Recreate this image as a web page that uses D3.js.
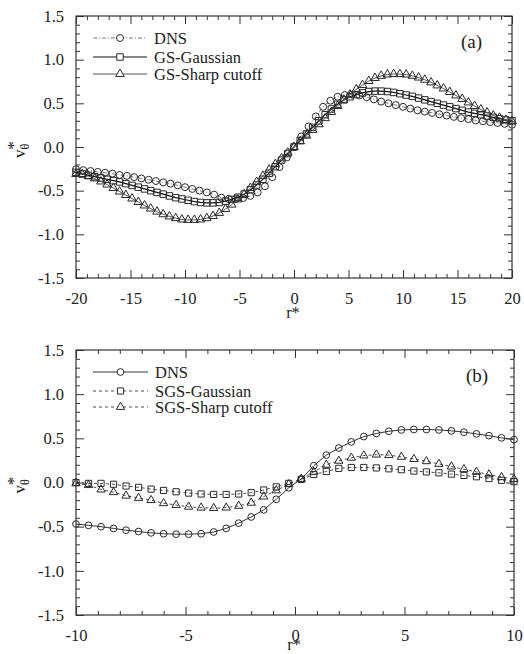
<!DOCTYPE html>
<html>
<head>
<meta charset="utf-8">
<script src="https://cdn.jsdelivr.net/npm/d3@7"></script>
<style>
body { margin: 0; background: #fff; }
text { font-family: "Liberation Serif", "Times New Roman", serif; fill: #222; }
</style>
</head>
<body>
<div id="chart"></div>
<script>
// ---- data ----
// panel (a): GS vs DNS
const rTopDns = [-20, -19.333, -18.667, -18, -17.333, -16.667, -16, -15.333, -14.667, -14, -13.333, -12.667, -12, -11.333, -10.667, -10, -9.333, -8.667, -8, -7.333, -6.667, -6, -5.333, -4.667, -4, -3.333, -2.667, -2, -1.333, -0.667,
  0, 0.667, 1.333, 2, 2.667, 3.333, 4, 4.667, 5.333, 6, 6.667, 7.333, 8, 8.667, 9.333, 10, 10.667, 11.333, 12, 12.667, 13.333, 14, 14.667, 15.333, 16, 16.667, 17.333, 18, 18.667, 19.333, 20];
const vTopDns = [-0.255, -0.265, -0.275, -0.285, -0.295, -0.305, -0.32, -0.33, -0.345, -0.36, -0.375, -0.39, -0.405, -0.42, -0.44, -0.46, -0.48, -0.50, -0.52, -0.545, -0.58, -0.595, -0.595, -0.585, -0.56, -0.52, -0.45, -0.345, -0.23, -0.12,
  0, 0.12, 0.235, 0.35, 0.46, 0.53, 0.575, 0.595, 0.60, 0.59, 0.57, 0.545, 0.52, 0.50, 0.48, 0.46, 0.44, 0.42, 0.405, 0.39, 0.375, 0.36, 0.345, 0.33, 0.32, 0.305, 0.295, 0.285, 0.275, 0.265, 0.255];

const rTopLes = [-20, -19.429, -18.857, -18.286, -17.714, -17.143, -16.571, -16, -15.429, -14.857, -14.286, -13.714, -13.143, -12.571, -12, -11.429, -10.857, -10.286, -9.714, -9.143, -8.571, -8, -7.429, -6.857, -6.286, -5.714, -5.143, -4.571, -4, -3.429, -2.857, -2.286, -1.714, -1.143, -0.571,
  0, 0.571, 1.143, 1.714, 2.286, 2.857, 3.429, 4, 4.571, 5.143, 5.714, 6.286, 6.857, 7.429, 8, 8.571, 9.143, 9.714, 10.286, 10.857, 11.429, 12, 12.571, 13.143, 13.714, 14.286, 14.857, 15.429, 16, 16.571, 17.143, 17.714, 18.286, 18.857, 19.429, 20];
const vTopGauss = [-0.29, -0.31, -0.325, -0.34, -0.355, -0.37, -0.385, -0.40, -0.42, -0.44, -0.46, -0.48, -0.50, -0.52, -0.54, -0.56, -0.58, -0.595, -0.61, -0.625, -0.635, -0.64, -0.64, -0.635, -0.62, -0.60, -0.575, -0.54, -0.49, -0.435, -0.37, -0.30, -0.225, -0.15, -0.075,
  0, 0.075, 0.15, 0.225, 0.30, 0.37, 0.435, 0.49, 0.54, 0.575, 0.60, 0.62, 0.635, 0.64, 0.64, 0.635, 0.625, 0.61, 0.595, 0.58, 0.56, 0.54, 0.52, 0.50, 0.48, 0.46, 0.44, 0.42, 0.40, 0.385, 0.37, 0.355, 0.34, 0.325, 0.31, 0.30];
const vTopSharp = [-0.31, -0.31, -0.335, -0.36, -0.395, -0.43, -0.47, -0.51, -0.55, -0.59, -0.63, -0.67, -0.705, -0.74, -0.77, -0.795, -0.815, -0.83, -0.835, -0.835, -0.83, -0.815, -0.79, -0.755, -0.71, -0.66, -0.60, -0.54, -0.47, -0.40, -0.33, -0.26, -0.195, -0.13, -0.065,
  0, 0.065, 0.13, 0.195, 0.26, 0.33, 0.40, 0.47, 0.54, 0.60, 0.66, 0.71, 0.755, 0.79, 0.815, 0.83, 0.835, 0.835, 0.83, 0.815, 0.795, 0.77, 0.74, 0.705, 0.67, 0.63, 0.59, 0.55, 0.51, 0.47, 0.43, 0.395, 0.36, 0.335, 0.31, 0.295];

// panel (b): SGS vs DNS
const rBot = [-10, -9.429, -8.857, -8.286, -7.714, -7.143, -6.571, -6, -5.429, -4.857, -4.286, -3.714, -3.143, -2.571, -2, -1.429, -0.857, -0.286,
  0.286, 0.857, 1.429, 2, 2.571, 3.143, 3.714, 4.286, 4.857, 5.429, 6, 6.571, 7.143, 7.714, 8.286, 8.857, 9.429, 10];
const vBotDns = [-0.47, -0.485, -0.50, -0.52, -0.54, -0.555, -0.57, -0.58, -0.585, -0.585, -0.58, -0.56, -0.52, -0.46, -0.39, -0.31, -0.19, -0.06,
  0.04, 0.19, 0.31, 0.39, 0.46, 0.52, 0.555, 0.58, 0.595, 0.60, 0.60, 0.595, 0.585, 0.57, 0.55, 0.53, 0.505, 0.485];
const vBotGauss = [0.00, -0.01, -0.01, -0.02, -0.04, -0.055, -0.075, -0.09, -0.105, -0.12, -0.13, -0.135, -0.135, -0.13, -0.115, -0.085, -0.05, -0.01,
  0.035, 0.09, 0.125, 0.16, 0.17, 0.17, 0.165, 0.155, 0.145, 0.13, 0.12, 0.11, 0.095, 0.08, 0.065, 0.045, 0.025, 0.01];
const vBotSharp = [-0.01, -0.03, -0.08, -0.11, -0.15, -0.175, -0.20, -0.235, -0.255, -0.275, -0.285, -0.29, -0.285, -0.265, -0.23, -0.16, -0.09, -0.02,
  0.04, 0.12, 0.20, 0.245, 0.28, 0.305, 0.315, 0.31, 0.29, 0.265, 0.24, 0.21, 0.18, 0.15, 0.12, 0.09, 0.06, 0.04];

// ticks
const yTicks = [-1.5, -1.0, -0.5, 0.0, 0.5, 1.0, 1.5];
const xTicksA = [-20, -15, -10, -5, 0, 5, 10, 15, 20];
const xTicksB = [-10, -5, 0, 5, 10];
const legendA = ["DNS", "GS-Gaussian", "GS-Sharp cutoff"];
const legendB = ["DNS", "SGS-Gaussian", "SGS-Sharp cutoff"];

const svg = d3.select("#chart")
    .append("svg")
    .attr("width", 524)
    .attr("height", 654);

const panels = [
  {
    top: 16, bottom: 278, left: 76, right: 512,
    xDomain: [-20, 20], xTicks: xTicksA, tag: "(a)", tagX: 461, titleY: 318,
    legendY: [38, 57, 74], legendX: [93, 147], legendNames: legendA,
    series: [
      {r: rTopDns, v: vTopDns, sym: d3.symbolCircle, size: 38, stroke: "#555", width: 0.8, dash: "4,2,1,2"},
      {r: rTopLes, v: vTopGauss, sym: d3.symbolSquare, size: 42, stroke: "#111", width: 1.2, dash: null},
      {r: rTopLes, v: vTopSharp, sym: d3.symbolTriangle, size: 32, stroke: "#555", width: 1, dash: null}
    ]
  },
  {
    top: 350, bottom: 615, left: 76, right: 514,
    xDomain: [-10, 10], xTicks: xTicksB, tag: "(b)", tagX: 466, titleY: 650,
    legendY: [372, 391, 407], legendX: [93, 148], legendNames: legendB,
    series: [
      {r: rBot, v: vBotDns, sym: d3.symbolCircle, size: 36, stroke: "#333", width: 1, dash: null},
      {r: rBot, v: vBotGauss, sym: d3.symbolSquare, size: 38, stroke: "#333", width: 0.9, dash: "3,3"},
      {r: rBot, v: vBotSharp, sym: d3.symbolTriangle, size: 30, stroke: "#333", width: 0.9, dash: "3,3"}
    ]
  }
];

panels.forEach(drawPanel);

function styleAxis(g, withText) {
    g.select(".domain").remove();
    g.selectAll(".tick line").attr("stroke", "#333").attr("stroke-width", 1);
    if (withText) {
        g.selectAll(".tick text")
            .attr("font-size", 16.5)
            .attr("font-family", "'Liberation Serif', 'Times New Roman', serif")
            .attr("fill", "#222");
    }
}

function drawPanel(p) {
    const x = d3.scaleLinear().domain(p.xDomain).range([p.left, p.right]);
    const y = d3.scaleLinear().domain([-1.5, 1.5]).range([p.bottom, p.top]);
    const g = svg.append("g");

    const xMinor = d3.range(p.xDomain[0], p.xDomain[1] + 0.001, 1).filter(d => d % 5 !== 0);
    const yMinor = d3.range(-15, 16).map(d => d / 10).filter(d => Math.round(d * 10) % 5 !== 0);
    const fmtY = d => d.toFixed(1);

    // bottom axis with labels
    g.append("g").attr("transform", `translate(0,${p.bottom})`)
        .call(d3.axisBottom(x).tickValues(p.xTicks).tickSizeInner(-8).tickSizeOuter(0).tickPadding(14).tickFormat(d => String(d)))
        .call(a => styleAxis(a, true));
    g.append("g").attr("transform", `translate(0,${p.bottom})`)
        .call(d3.axisBottom(x).tickValues(xMinor).tickSizeInner(-4).tickSizeOuter(0).tickFormat(""))
        .call(a => styleAxis(a, false));
    // top axis
    g.append("g").attr("transform", `translate(0,${p.top})`)
        .call(d3.axisTop(x).tickValues(p.xTicks).tickSizeInner(-8).tickSizeOuter(0).tickFormat(""))
        .call(a => styleAxis(a, false));
    g.append("g").attr("transform", `translate(0,${p.top})`)
        .call(d3.axisTop(x).tickValues(xMinor).tickSizeInner(-4).tickSizeOuter(0).tickFormat(""))
        .call(a => styleAxis(a, false));
    // left axis with labels
    g.append("g").attr("transform", `translate(${p.left},0)`)
        .call(d3.axisLeft(y).tickValues(yTicks).tickSizeInner(-8).tickSizeOuter(0).tickPadding(12).tickFormat(fmtY))
        .call(a => styleAxis(a, true));
    g.append("g").attr("transform", `translate(${p.left},0)`)
        .call(d3.axisLeft(y).tickValues(yMinor).tickSizeInner(-4).tickSizeOuter(0).tickFormat(""))
        .call(a => styleAxis(a, false));
    // right axis
    g.append("g").attr("transform", `translate(${p.right},0)`)
        .call(d3.axisRight(y).tickValues(yTicks).tickSizeInner(-8).tickSizeOuter(0).tickFormat(""))
        .call(a => styleAxis(a, false));
    g.append("g").attr("transform", `translate(${p.right},0)`)
        .call(d3.axisRight(y).tickValues(yMinor).tickSizeInner(-4).tickSizeOuter(0).tickFormat(""))
        .call(a => styleAxis(a, false));

    // frame
    g.append("rect")
        .attr("x", p.left).attr("y", p.top)
        .attr("width", p.right - p.left).attr("height", p.bottom - p.top)
        .attr("fill", "none").attr("stroke", "#333").attr("stroke-width", 1.2);

    // curves + markers
    const line = d3.line().x(d => x(d[0])).y(d => y(d[1]));
    p.series.forEach(s => {
        const pts = s.r.map((r, i) => [r, s.v[i]]);
        g.append("path").datum(pts)
            .attr("d", line)
            .attr("fill", "none")
            .attr("stroke", s.stroke)
            .attr("stroke-width", s.width)
            .attr("stroke-dasharray", s.dash);
        g.append("g").selectAll("path")
            .data(pts)
            .enter()
            .append("path")
            .attr("transform", d => `translate(${x(d[0])},${y(d[1])})`)
            .attr("d", d3.symbol(s.sym, s.size)())
            .attr("fill", "none")
            .attr("stroke", "#2a2a2a")
            .attr("stroke-width", 1);
    });

    // legend
    p.series.forEach((s, i) => {
        const ly = p.legendY[i];
        g.append("line")
            .attr("x1", p.legendX[0]).attr("x2", p.legendX[1])
            .attr("y1", ly).attr("y2", ly)
            .attr("stroke", s.stroke).attr("stroke-width", s.width)
            .attr("stroke-dasharray", s.dash);
        g.append("path")
            .attr("transform", `translate(${(p.legendX[0] + p.legendX[1]) / 2},${ly})`)
            .attr("d", d3.symbol(s.sym, s.size)())
            .attr("fill", "#fff")
            .attr("stroke", "#2a2a2a")
            .attr("stroke-width", 1);
        g.append("text")
            .attr("x", p.legendX[1] + 7).attr("y", ly + 5.5)
            .attr("font-size", 16.5)
            .text(p.legendNames[i]);
    });

    // panel tag
    g.append("text")
        .attr("x", p.tagX).attr("y", p.top + 32)
        .attr("font-size", 19)
        .text(p.tag);

    // axis titles
    g.append("text")
        .attr("x", (p.left + p.right) / 2 - 1).attr("y", p.titleY)
        .attr("text-anchor", "middle")
        .attr("font-size", 16.5)
        .text("r*");

    const yl = g.append("text")
        .attr("transform", `translate(25,${y(0) + 11}) rotate(-90)`)
        .attr("font-size", 17);
    yl.append("tspan").text("v");
    yl.append("tspan").attr("font-size", 12).attr("dy", 4).text("θ");
    yl.append("tspan").attr("font-size", 17).attr("dy", -10).attr("dx", -6).text("*");
}
</script>
</body>
</html>
